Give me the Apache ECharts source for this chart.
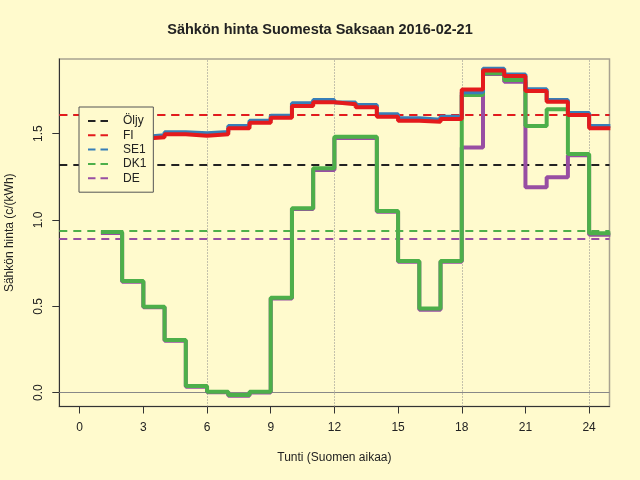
<!DOCTYPE html>
<html>
<head>
<meta charset="utf-8">
<script src="https://cdn.jsdelivr.net/npm/echarts@6/dist/echarts.min.js"></script>
<style>
  html, body { margin: 0; padding: 0; background: #fffacd; }
  #chart { width: 640px; height: 480px; }
</style>
</head>
<body>
<div id="chart"></div>
<script>
// tunnit 1..24, hinta c/kWh
const hours = [1, 2, 3, 4, 5, 6, 7, 8, 9, 10, 11, 12, 13, 14, 15, 16, 17, 18, 19, 20, 21, 22, 23, 24];
const fiPrice = [1.47, 1.47, 1.479, 1.496, 1.488, 1.496, 1.531, 1.563, 1.592, 1.66, 1.681, 1.67, 1.652, 1.598, 1.575, 1.569, 1.585, 1.755, 1.865, 1.834, 1.747, 1.685, 1.608, 1.531];
const se1Price = [1.48, 1.48, 1.49, 1.508, 1.502, 1.51, 1.544, 1.575, 1.604, 1.676, 1.695, 1.68, 1.666, 1.612, 1.589, 1.58, 1.598, 1.74, 1.876, 1.842, 1.757, 1.695, 1.62, 1.544];
const dk1Price = [0.93, 0.647, 0.498, 0.305, 0.039, 0.006, -0.013, 0.005, 0.55, 1.068, 1.30, 1.482, 1.482, 1.052, 0.763, 0.487, 0.763, 1.724, 1.849, 1.81, 1.544, 1.641, 1.382, 0.923];
const dePrice = [0.925, 0.642, 0.494, 0.30, 0.034, 0.002, -0.018, 0.001, 0.545, 1.063, 1.29, 1.475, 1.475, 1.047, 0.758, 0.48, 0.758, 1.419, 1.845, 1.80, 1.189, 1.247, 1.375, 0.915];

// vaakaviivat (keskiarvot ja öljy)
const refNames = ['Öljy', 'FI', 'SE1', 'DK1', 'DE'];
const refValues = [1.318, 1.612, 1.612, 0.936, 0.892];
const refColors = ['#222222', '#e41a1c', '#377eb8', '#4daf4a', '#984ea3'];

const xTicks = [0, 3, 6, 9, 12, 15, 18, 21, 24];
const xGrid = [6, 12, 18, 24];
const yTicks = [0, 0.5, 1.0, 1.5];

const FONT = 'Liberation Sans';
// katkoviivan kuvake legendaan
const DASH_ICON = 'path://M0,5h7.5v2h-7.5zM12.5,5h7.5v2h-7.5zM0,0h0.01v0.01h-0.01zM0,12h0.01v0.01h-0.01z';

// porrasviiva: arvo pysyy tunnin ajan
const stepData = (vals) => {
    const pts = hours.map((h, i) => [h, vals[i]]);
    pts.push([hours[hours.length - 1] + 1, vals[vals.length - 1]]);
    return pts;
};

const stepSeries = (name, vals, color, z) => ({
    name: name,
    type: 'line',
    step: 'end',
    data: stepData(vals),
    showSymbol: false,
    symbol: 'none',
    lineStyle: { color: color, width: 4 },
    z: z,
    silent: true
});

const refSeries = (i) => ({
    name: refNames[i],
    type: 'line',
    data: [],
    symbol: 'none',
    color: refColors[i],
    lineStyle: { color: refColors[i], width: 2, type: [8, 6] },
    markLine: {
        silent: true,
        symbol: 'none',
        label: { show: false },
        lineStyle: { color: refColors[i], width: 2, type: [8, 6] },
        data: [{ yAxis: refValues[i] }]
    },
    z: 3
});

const chart = echarts.init(document.getElementById('chart'));

const option = {
    backgroundColor: '#fffacd',
    animation: false,
    title: {
        text: 'Sähkön hinta Suomesta Saksaan 2016-02-21',
        left: 'center',
        top: 17,
        textStyle: { fontFamily: FONT, fontSize: 14.5, fontWeight: 'bold', color: '#222' }
    },
    legend: {
        data: refNames.map(n => ({ name: n, icon: DASH_ICON })),
        orient: 'vertical',
        left: 79,
        top: 107,
        padding: [8, 7, 8, 9],
        itemGap: 2.3,
        itemWidth: 20,
        itemHeight: 12,
        backgroundColor: '#fffacd',
        borderColor: '#555',
        borderWidth: 1,
        textStyle: { fontFamily: FONT, fontSize: 12, color: '#222', padding: [0, 0, 0, 10] },
        z: 20
    },
    grid: {
        left: 59.3,
        right: 30.5,
        top: 59,
        bottom: 73.5,
        outerBoundsMode: 'none',
        show: true,
        borderColor: '#a8a290',
        borderWidth: 1.5,
        backgroundColor: 'transparent'
    },
    xAxis: {
        type: 'value',
        min: -0.96,
        max: 24.96,
        name: 'Tunti (Suomen aikaa)',
        nameLocation: 'middle',
        nameGap: 45,
        nameTextStyle: { fontFamily: FONT, fontSize: 12, color: '#222' },
        axisLine: { show: true, onZero: false, lineStyle: { color: '#333', width: 1 } },
        axisTick: { show: true, length: 7, customValues: xTicks, lineStyle: { color: '#333' } },
        axisLabel: { customValues: xTicks, margin: 15, fontFamily: FONT, fontSize: 12, color: '#222' },
        splitLine: { show: false }
    },
    yAxis: {
        type: 'value',
        min: -0.08,
        max: 1.932,
        name: 'Sähkön hinta (c/(kWh)',
        nameLocation: 'middle',
        nameGap: 44,
        nameRotate: 90,
        nameTextStyle: { fontFamily: FONT, fontSize: 12, color: '#222' },
        axisLine: { show: true, onZero: false, lineStyle: { color: '#333', width: 1 } },
        axisTick: { show: true, length: 7, customValues: yTicks, lineStyle: { color: '#333' } },
        axisLabel: {
            customValues: yTicks,
            rotate: 90,
            margin: 15,
            fontFamily: FONT,
            fontSize: 12,
            color: '#222',
            formatter: (v) => v.toFixed(1)
        },
        splitLine: { show: false }
    },
    series: [
        // apuviivat: pystyviivat ja nollataso
        {
            name: 'grid',
            type: 'line',
            data: [],
            markLine: {
                silent: true,
                symbol: 'none',
                label: { show: false },
                lineStyle: { color: '#888', width: 1, type: [1, 2] },
                data: xGrid.map(x => ({ xAxis: x }))
            },
            z: 1
        },
        {
            name: 'zero',
            type: 'line',
            data: [],
            markLine: {
                silent: true,
                symbol: 'none',
                label: { show: false },
                lineStyle: { color: '#888', width: 1, type: 'solid' },
                data: [{ yAxis: 0 }]
            },
            z: 1
        },
        refSeries(0),
        refSeries(4),
        refSeries(3),
        refSeries(2),
        refSeries(1),
        stepSeries('DE tunti', dePrice, '#984ea3', 5),
        stepSeries('DK1 tunti', dk1Price, '#4daf4a', 6),
        stepSeries('SE1 tunti', se1Price, '#377eb8', 7),
        stepSeries('FI tunti', fiPrice, '#e41a1c', 8)
    ]
};

chart.setOption(option);
</script>
</body>
</html>
